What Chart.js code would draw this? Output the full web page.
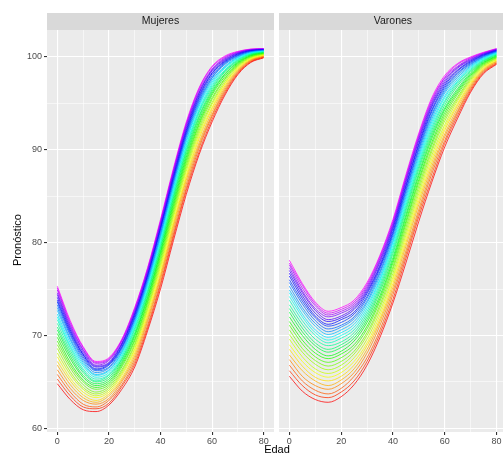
<!DOCTYPE html>
<html><head><meta charset="utf-8">
<script src="https://cdn.jsdelivr.net/npm/chart.js@4.4.0/dist/chart.umd.min.js"></script>
<style>
html,body{margin:0;padding:0;background:#fff;overflow:hidden;width:503px;height:454px}
#wrap{position:relative;width:503px;height:454px}
canvas{position:absolute;top:0}
.lbl{position:absolute;font-family:"Liberation Sans",Arial,sans-serif;color:#000;font-size:11px;white-space:nowrap;line-height:12px}
</style></head><body>
<div id="wrap">
<canvas id="c1" width="276" height="454" style="left:0"></canvas>
<canvas id="c2" width="227" height="454" style="left:276px"></canvas>
<div class="lbl" style="left:277px;top:443px;transform:translateX(-50%)">Edad</div>
<div class="lbl" style="left:17px;top:240px;transform:translate(-50%,-50%) rotate(-90deg)">Pronóstico</div>
</div>
<script>
// Ages sampled along every curve
const ages = [0, 5, 10, 15, 20, 25, 30, 35, 40, 45, 50, 55, 60, 65, 70, 75, 80];
const panelTitles = ["Mujeres", "Varones"];
const xMajorTicks = [0, 20, 40, 60, 80];
const xMinorTicks = [10, 30, 50, 70];
const yMajorTicks = [60, 70, 80, 90, 100];
const yMinorTicks = [65, 75, 85, 95];

// Mujeres: one array per age (0..80 by 5); each holds the 30 curves (bottom red -> top magenta)
const mujeres = [
  [64.8,65.3,65.8,66.3,66.8,67.2,67.7,68.1,68.6,69.0,69.4,69.8,70.2,70.6,70.9,71.3,71.7,72.0,72.3,72.7,73.0,73.3,73.6,73.8,74.1,74.4,74.6,74.9,75.1,75.3],
  [63.1,63.5,63.9,64.3,64.7,65.1,65.4,65.8,66.1,66.5,66.8,67.1,67.5,67.8,68.1,68.4,68.7,68.9,69.2,69.5,69.7,70.0,70.2,70.4,70.6,70.8,71.0,71.2,71.4,71.6],
  [62.0,62.3,62.6,63.0,63.3,63.6,63.9,64.2,64.4,64.7,65.0,65.2,65.5,65.7,66.0,66.2,66.4,66.7,66.9,67.1,67.3,67.5,67.7,67.9,68.0,68.2,68.4,68.5,68.7,68.8],
  [61.8,62.1,62.3,62.6,62.8,63.0,63.3,63.5,63.7,63.9,64.2,64.4,64.6,64.8,65.0,65.1,65.3,65.5,65.7,65.8,66.0,66.2,66.3,66.4,66.6,66.7,66.8,67.0,67.1,67.2],
  [62.5,62.7,63.0,63.2,63.5,63.7,63.9,64.1,64.3,64.5,64.7,64.9,65.1,65.3,65.5,65.7,65.8,66.0,66.2,66.3,66.5,66.6,66.8,66.9,67.0,67.1,67.3,67.4,67.5,67.6],
  [64.2,64.5,64.7,65.0,65.2,65.4,65.7,65.9,66.1,66.3,66.6,66.8,67.0,67.2,67.4,67.5,67.7,67.9,68.1,68.2,68.4,68.6,68.7,68.8,69.0,69.1,69.2,69.4,69.5,69.6],
  [66.6,66.9,67.2,67.5,67.8,68.1,68.4,68.6,68.9,69.1,69.4,69.6,69.9,70.1,70.3,70.6,70.8,71.0,71.2,71.4,71.6,71.8,71.9,72.1,72.3,72.4,72.6,72.7,72.9,73.0],
  [70.5,70.8,71.1,71.5,71.8,72.1,72.4,72.7,72.9,73.2,73.5,73.7,74.0,74.2,74.5,74.7,74.9,75.2,75.4,75.6,75.8,76.0,76.2,76.4,76.5,76.7,76.9,77.0,77.2,77.3],
  [75.0,75.4,75.7,76.1,76.4,76.7,77.1,77.4,77.7,78.0,78.3,78.6,78.9,79.1,79.4,79.6,79.9,80.1,80.4,80.6,80.8,81.0,81.3,81.5,81.6,81.8,82.0,82.2,82.3,82.5],
  [80.2,80.6,80.9,81.3,81.7,82.0,82.3,82.7,83.0,83.3,83.6,83.9,84.2,84.5,84.8,85.0,85.3,85.5,85.8,86.0,86.3,86.5,86.7,86.9,87.1,87.3,87.5,87.7,87.8,88.0],
  [85.2,85.6,85.9,86.3,86.7,87.0,87.3,87.7,88.0,88.3,88.6,88.9,89.2,89.5,89.8,90.0,90.3,90.5,90.8,91.0,91.3,91.5,91.7,91.9,92.1,92.3,92.5,92.7,92.8,93.0],
  [89.5,89.8,90.2,90.5,90.8,91.2,91.5,91.8,92.1,92.4,92.7,92.9,93.2,93.5,93.7,94.0,94.2,94.4,94.7,94.9,95.1,95.3,95.5,95.7,95.9,96.1,96.2,96.4,96.6,96.7],
  [93.0,93.3,93.6,93.8,94.1,94.4,94.6,94.9,95.1,95.4,95.6,95.9,96.1,96.3,96.5,96.7,96.9,97.1,97.3,97.5,97.7,97.8,98.0,98.2,98.3,98.5,98.6,98.7,98.9,99.0],
  [95.9,96.1,96.3,96.5,96.7,96.9,97.1,97.2,97.4,97.6,97.7,97.9,98.1,98.2,98.4,98.5,98.6,98.8,98.9,99.0,99.2,99.3,99.4,99.5,99.6,99.7,99.8,99.9,100.0,100.1],
  [98.10,98.22,98.34,98.45,98.57,98.68,98.79,98.89,99.00,99.10,99.19,99.29,99.38,99.47,99.56,99.65,99.73,99.81,99.89,99.97,100.04,100.12,100.18,100.25,100.32,100.38,100.44,100.49,100.55,100.60],
  [99.40,99.47,99.54,99.61,99.67,99.74,99.80,99.86,99.92,99.98,100.03,100.09,100.14,100.20,100.25,100.30,100.35,100.39,100.44,100.48,100.53,100.57,100.61,100.65,100.69,100.72,100.76,100.79,100.82,100.85],
  [99.90,99.95,100.00,100.04,100.09,100.13,100.17,100.22,100.26,100.30,100.34,100.38,100.41,100.45,100.49,100.52,100.55,100.59,100.62,100.65,100.68,100.71,100.73,100.76,100.79,100.81,100.83,100.86,100.88,100.90]
];

// Varones: one array per age (0..80 by 5); each holds the 30 curves (bottom red -> top magenta)
const varones = [
  [65.6,66.2,66.8,67.4,67.9,68.5,69.0,69.6,70.1,70.6,71.1,71.5,72.0,72.5,72.9,73.3,73.8,74.2,74.6,74.9,75.3,75.7,76.0,76.4,76.7,77.0,77.3,77.6,77.8,78.1],
  [64.0,64.6,65.1,65.6,66.2,66.7,67.2,67.7,68.2,68.6,69.1,69.5,70.0,70.4,70.8,71.2,71.6,72.0,72.3,72.7,73.0,73.4,73.7,74.0,74.3,74.6,74.8,75.1,75.4,75.6],
  [63.1,63.6,64.1,64.6,65.1,65.5,66.0,66.4,66.9,67.3,67.7,68.1,68.5,68.9,69.2,69.6,70.0,70.3,70.6,71.0,71.3,71.6,71.9,72.1,72.4,72.7,72.9,73.2,73.4,73.6],
  [62.8,63.3,63.7,64.2,64.6,65.1,65.5,65.9,66.3,66.7,67.1,67.5,67.8,68.2,68.5,68.9,69.2,69.5,69.8,70.1,70.4,70.7,71.0,71.2,71.5,71.7,72.0,72.2,72.4,72.6],
  [63.4,63.9,64.3,64.8,65.2,65.6,66.0,66.4,66.8,67.2,67.6,68.0,68.3,68.7,69.0,69.3,69.7,70.0,70.3,70.6,70.9,71.1,71.4,71.7,71.9,72.1,72.4,72.6,72.8,73.0],
  [64.7,65.1,65.6,66.0,66.4,66.8,67.2,67.6,68.0,68.3,68.7,69.0,69.4,69.7,70.0,70.3,70.6,70.9,71.2,71.5,71.8,72.0,72.3,72.5,72.8,73.0,73.2,73.4,73.6,73.8],
  [66.8,67.2,67.6,68.1,68.5,68.9,69.2,69.6,70.0,70.3,70.7,71.0,71.4,71.7,72.0,72.3,72.6,72.9,73.2,73.5,73.7,74.0,74.2,74.5,74.7,74.9,75.1,75.3,75.5,75.7],
  [69.8,70.2,70.6,71.1,71.5,71.8,72.2,72.6,73.0,73.3,73.7,74.0,74.3,74.7,75.0,75.3,75.6,75.9,76.1,76.4,76.7,76.9,77.2,77.4,77.6,77.9,78.1,78.3,78.5,78.65],
  [73.5,73.9,74.4,74.8,75.2,75.6,76.0,76.3,76.7,77.1,77.4,77.8,78.1,78.4,78.8,79.1,79.4,79.7,80.0,80.2,80.5,80.8,81.0,81.2,81.5,81.7,81.9,82.1,82.3,82.5],
  [77.8,78.3,78.7,79.1,79.6,80.0,80.4,80.8,81.2,81.6,82.0,82.3,82.7,83.0,83.4,83.7,84.0,84.3,84.6,84.9,85.2,85.5,85.7,86.0,86.2,86.5,86.7,86.9,87.1,87.3],
  [82.3,82.8,83.2,83.6,84.1,84.5,84.9,85.3,85.7,86.1,86.5,86.8,87.2,87.5,87.9,88.2,88.5,88.8,89.1,89.4,89.7,90.0,90.2,90.5,90.7,91.0,91.2,91.4,91.6,91.8],
  [86.5,86.9,87.4,87.8,88.2,88.6,89.0,89.4,89.8,90.1,90.5,90.8,91.2,91.5,91.8,92.1,92.4,92.7,93.0,93.3,93.6,93.8,94.1,94.3,94.6,94.8,95.0,95.2,95.4,95.6],
  [90.3,90.7,91.0,91.4,91.7,92.1,92.4,92.7,93.1,93.4,93.7,94.0,94.3,94.5,94.8,95.1,95.3,95.6,95.8,96.1,96.3,96.5,96.7,96.9,97.1,97.3,97.5,97.7,97.8,98.0],
  [93.4,93.7,94.0,94.2,94.5,94.8,95.0,95.3,95.5,95.7,96.0,96.2,96.4,96.6,96.9,97.1,97.3,97.4,97.6,97.8,98.0,98.2,98.3,98.5,98.6,98.8,98.9,99.0,99.2,99.3],
  [96.20,96.38,96.56,96.74,96.91,97.08,97.24,97.40,97.56,97.71,97.86,98.01,98.15,98.29,98.42,98.55,98.68,98.81,98.93,99.04,99.16,99.26,99.37,99.47,99.57,99.66,99.75,99.84,99.92,100.00],
  [98.20,98.31,98.42,98.53,98.63,98.73,98.83,98.93,99.02,99.12,99.21,99.29,99.38,99.46,99.55,99.63,99.70,99.78,99.85,99.92,99.99,100.05,100.12,100.18,100.24,100.30,100.35,100.40,100.45,100.50],
  [99.20,99.28,99.36,99.44,99.52,99.59,99.67,99.74,99.81,99.88,99.94,100.01,100.07,100.13,100.20,100.25,100.31,100.37,100.42,100.47,100.52,100.57,100.62,100.66,100.71,100.75,100.79,100.83,100.87,100.90]
];

const FONT = '"Liberation Sans", Arial, sans-serif';

function buildDatasets(cols) {
  const n = cols[0].length;
  const ds = [];
  for (let i = 0; i < n; i++) {
    const hue = 300 * i / (n - 1);
    ds.push({
      data: ages.map((a, k) => ({ x: a, y: cols[k][i] })),
      borderColor: `hsla(${hue},100%,50%,0.75)`,
      borderWidth: 1,
      pointRadius: 0,
      fill: false,
      cubicInterpolationMode: 'monotone'
    });
  }
  return ds;
}

const panelPlugin = {
  id: 'panel',
  beforeDraw(chart, args, opts) {
    const { ctx, chartArea: a } = chart;
    ctx.save();
    ctx.fillStyle = '#ebebeb';
    ctx.fillRect(a.left, a.top, a.right - a.left, a.bottom - a.top);
    ctx.fillStyle = '#d9d9d9';
    ctx.fillRect(a.left, 13, a.right - a.left, a.top - 13);
    ctx.fillStyle = '#1a1a1a';
    ctx.font = '10.5px ' + FONT;
    ctx.textAlign = 'center';
    ctx.textBaseline = 'middle';
    ctx.fillText(opts.title, chart.scales.x.getPixelForValue(40), 21.5);
    ctx.restore();
  }
};

function makePanel(id, title, cols, showY, xMax, pad) {
  const isMajorX = v => xMajorTicks.includes(v);
  const isMajorY = v => yMajorTicks.includes(v);
  return new Chart(document.getElementById(id), {
    type: 'line',
    data: { datasets: buildDatasets(cols) },
    plugins: [panelPlugin],
    options: {
      responsive: false,
      animation: false,
      devicePixelRatio: 1,
      layout: { padding: pad },
      plugins: { legend: { display: false }, tooltip: { enabled: false }, panel: { title } },
      scales: {
        x: {
          type: 'linear', min: -4, max: xMax,
          afterBuildTicks: s => { s.ticks = [...xMajorTicks, ...xMinorTicks].sort((a, b) => a - b).map(v => ({ value: v })); },
          afterFit: s => { s.height = 22; },
          ticks: {
            autoSkip: false, maxRotation: 0, padding: 1,
            color: '#4d4d4d', font: { size: 9, family: FONT },
            callback: v => isMajorX(v) ? String(v) : ''
          },
          grid: {
            color: '#ffffff',
            lineWidth: c => (c.tick && isMajorX(c.tick.value)) ? 1.1 : 0.55,
            tickColor: c => (c.tick && isMajorX(c.tick.value)) ? '#333333' : 'rgba(0,0,0,0)',
            tickLength: 3
          },
          border: { display: false }
        },
        y: {
          type: 'linear', min: 59.6, max: 102.9,
          afterBuildTicks: s => { s.ticks = [...yMajorTicks, ...yMinorTicks].sort((a, b) => a - b).map(v => ({ value: v })); },
          afterFit: s => { s.width = showY ? 47 : 0; },
          ticks: {
            display: showY, autoSkip: false, padding: 2,
            color: '#4d4d4d', font: { size: 9, family: FONT },
            callback: v => isMajorY(v) ? String(v) : ''
          },
          grid: {
            color: '#ffffff',
            drawTicks: showY,
            lineWidth: c => (c.tick && isMajorY(c.tick.value)) ? 1.1 : 0.55,
            tickColor: c => (c.tick && isMajorY(c.tick.value)) ? '#333333' : 'rgba(0,0,0,0)',
            tickLength: 3
          },
          border: { display: false }
        }
      }
    }
  });
}

makePanel('c1', panelTitles[0], mujeres, true, 84, { top: 30, right: 2, left: 0, bottom: 0 });
makePanel('c2', panelTitles[1], varones, false, 82.5, { top: 30, right: 0, left: 3, bottom: 0 });
</script>
</body></html>
